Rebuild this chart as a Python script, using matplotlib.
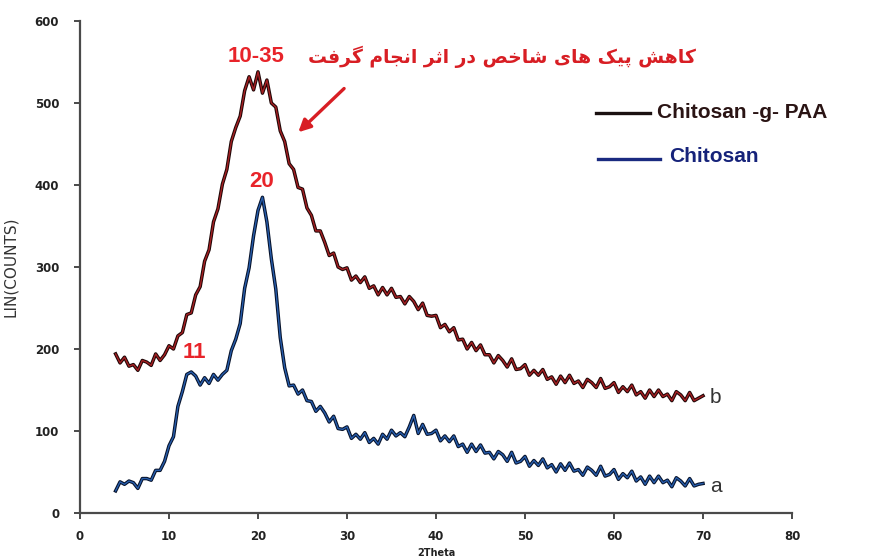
import numpy as np
import matplotlib
matplotlib.use("Agg")
import matplotlib.pyplot as plt
from matplotlib.lines import Line2D

# ---- data, 2-theta step 0.5 from 4 to 70 ----
b_counts = [194, 183, 190, 179, 181, 174, 186, 184, 180, 194, 186, 193, 204, 200, 216, 220,
            242, 244, 266, 276, 307, 321, 355, 371, 401, 419, 453, 470, 484, 515, 532, 516,
            538, 512, 528, 500, 495, 466, 453, 426, 419, 397, 395, 372, 363, 344, 344, 330,
            314, 317, 300, 297, 299, 284, 289, 281, 288, 274, 277, 266, 275, 266, 274, 263,
            264, 255, 264, 258, 248, 256, 241, 240, 241, 226, 230, 221, 226, 211, 212, 200,
            208, 198, 205, 193, 193, 183, 192, 186, 178, 188, 175, 176, 181, 168, 174, 168,
            175, 163, 166, 157, 167, 159, 168, 158, 161, 153, 163, 159, 153, 164, 152, 154,
            159, 147, 154, 148, 156, 144, 148, 140, 150, 142, 150, 142, 145, 137, 148, 144,
            137, 147, 137, 140, 143]
a_counts = [27, 38, 35, 39, 37, 30, 42, 42, 40, 52, 52, 63, 82, 93, 130, 148,
            169, 172, 167, 156, 165, 158, 169, 162, 169, 174, 198, 212, 231, 274, 299, 338,
            369, 385, 355, 310, 273, 214, 177, 155, 156, 145, 150, 137, 136, 124, 130, 122,
            111, 118, 103, 102, 105, 91, 96, 90, 98, 86, 91, 84, 96, 90, 101, 94,
            98, 93, 105, 119, 97, 108, 96, 97, 101, 88, 94, 87, 94, 81, 84, 74,
            84, 75, 83, 73, 74, 66, 75, 71, 63, 74, 61, 63, 69, 57, 64, 58,
            66, 55, 59, 50, 60, 52, 61, 51, 53, 46, 56, 52, 46, 57, 45, 47,
            53, 41, 48, 43, 51, 39, 44, 35, 45, 37, 45, 37, 40, 32, 43, 39,
            33, 42, 33, 35, 36]
two_theta_start, two_theta_end = 4.0, 70.0
x_ticks = [0, 10, 20, 30, 40, 50, 60, 70, 80]
y_ticks = [0, 100, 200, 300, 400, 500, 600]
legend_labels = ["Chitosan -g- PAA", "Chitosan"]
peak_labels = ["10-35", "20", "11"]
persian_note = "کاهش پیک های شاخص در اثر انجام گرفت"

# ---- minimal Arabic/Persian shaping (presentation forms, visual order) ----
FORMS = {  # isolated, final, initial, medial
    'ا': ('\uFE8D', '\uFE8E', None, None),
    'ب': ('\uFE8F', '\uFE90', '\uFE91', '\uFE92'),
    'پ': ('\uFB56', '\uFB57', '\uFB58', '\uFB59'),
    'ت': ('\uFE95', '\uFE96', '\uFE97', '\uFE98'),
    'ث': ('\uFE99', '\uFE9A', '\uFE9B', '\uFE9C'),
    'ج': ('\uFE9D', '\uFE9E', '\uFE9F', '\uFEA0'),
    'خ': ('\uFEA5', '\uFEA6', '\uFEA7', '\uFEA8'),
    'د': ('\uFEA9', '\uFEAA', None, None),
    'ر': ('\uFEAD', '\uFEAE', None, None),
    'ش': ('\uFEB5', '\uFEB6', '\uFEB7', '\uFEB8'),
    'ص': ('\uFEB9', '\uFEBA', '\uFEBB', '\uFEBC'),
    'ف': ('\uFED1', '\uFED2', '\uFED3', '\uFED4'),
    'ک': ('\uFB8E', '\uFB8F', '\uFB90', '\uFB91'),
    'گ': ('\uFB92', '\uFB93', '\uFB94', '\uFB95'),
    'م': ('\uFEE1', '\uFEE2', '\uFEE3', '\uFEE4'),
    'ن': ('\uFEE5', '\uFEE6', '\uFEE7', '\uFEE8'),
    'ه': ('\uFEE9', '\uFEEA', '\uFEEB', '\uFEEC'),
    'ی': ('\uFBFC', '\uFBFD', '\uFBFE', '\uFBFF'),
}


def shape(text):
    out = []
    for i, ch in enumerate(text):
        if ch not in FORMS:
            out.append(ch)
            continue
        prev = text[i - 1] if i > 0 else ' '
        nxt = text[i + 1] if i + 1 < len(text) else ' '
        join_prev = prev in FORMS and FORMS[prev][2] is not None
        join_next = FORMS[ch][2] is not None and nxt in FORMS
        iso, fin, ini, med = FORMS[ch]
        if join_prev and join_next:
            out.append(med)
        elif join_prev:
            out.append(fin)
        elif join_next:
            out.append(ini)
        else:
            out.append(iso)
    return ''.join(reversed(out))


two_theta_b = np.linspace(two_theta_start, two_theta_end, len(b_counts))
two_theta_a = np.linspace(two_theta_start, two_theta_end, len(a_counts))

fig = plt.figure(figsize=(8.7, 5.59), dpi=100)
ax = fig.add_axes([80 / 870, 1 - 513 / 559, 712 / 870, 492 / 559])

ax.plot(two_theta_b, b_counts, color='#1e0606', lw=2.5)
ax.plot(two_theta_b, b_counts, color='#c8262a', lw=1.0, alpha=0.8)
ax.plot(two_theta_a, a_counts, color='#06122a', lw=2.5)
ax.plot(two_theta_a, a_counts, color='#2f6fcc', lw=1.0, alpha=0.8)

ax.set_xlim(0, 80)
ax.set_ylim(0, 600)
ax.set_xticks(x_ticks)
ax.set_yticks(y_ticks)
for s in ['top', 'right']:
    ax.spines[s].set_visible(False)
for s in ['left', 'bottom']:
    ax.spines[s].set_color('#4a4a4a')
    ax.spines[s].set_linewidth(1.6)
ax.tick_params(axis='both', direction='out', length=4, width=1.4, color='#4a4a4a',
               labelsize=8.5, labelcolor='#222222')
ax.tick_params(axis='y', pad=11)
ax.tick_params(axis='x', pad=8)
for lab in ax.get_xticklabels() + ax.get_yticklabels():
    lab.set_fontweight('bold')
ax.set_ylabel('LIN(COUNTS)', fontsize=11, color='#333333', labelpad=12)
ax.set_xlabel('2Theta', fontsize=7, fontweight='bold', color='#222222', labelpad=4)

red = '#e8242a'
lab_font = dict(color=red, fontsize=16, fontweight='bold', ha='center', va='center',
                family=['Liberation Sans', 'DejaVu Sans'])
ax.text(19.8, 557, peak_labels[0], **lab_font)
ax.text(20.4, 404, peak_labels[1], **lab_font)
ax.text(12.8, 196, peak_labels[2], **lab_font)
ax.text(47.4, 556, shape(persian_note), color='#d81e24', fontsize=13.5, fontweight='bold',
        ha='center', va='center', family=['DejaVu Sans'])
ax.annotate('', xy=(24.3, 462), xytext=(29.9, 520),
            arrowprops=dict(arrowstyle='-|>', color='#d81e24', lw=2.4, mutation_scale=18))

txt_font = dict(fontsize=15, color='#333333', ha='left', va='center',
                family=['Liberation Sans', 'DejaVu Sans'])
ax.text(70.8, 141, 'b', **txt_font)
ax.text(70.8, 32, 'a', **txt_font)

# legend drawn at figure level
fig.add_artist(Line2D([596 / 870, 650 / 870], [1 - 113 / 559] * 2, color='#1a1010', lw=2.4))
fig.text(657 / 870, 1 - 112 / 559, legend_labels[0], fontsize=15, fontweight='bold',
         color='#2a1414', ha='left', va='center', family=['Liberation Sans', 'DejaVu Sans'])
fig.add_artist(Line2D([598 / 870, 660 / 870], [1 - 159 / 559] * 2, color='#1a2a80', lw=2.4))
fig.text(669 / 870, 1 - 156 / 559, legend_labels[1], fontsize=15, fontweight='bold',
         color='#16237a', ha='left', va='center', family=['Liberation Sans', 'DejaVu Sans'])

fig.savefig('out.png', dpi=100)
